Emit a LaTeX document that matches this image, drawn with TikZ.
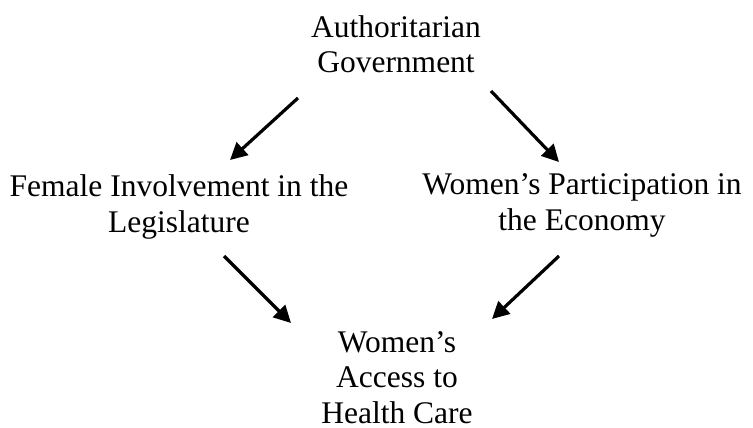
\documentclass[tikz,border=0pt]{standalone}
\usepackage{fontspec}
\setmainfont{Liberation Serif}
\usetikzlibrary{arrows.meta}
\begin{document}
\begin{tikzpicture}[x=1pt,y=-1pt,
  lbl/.style={align=center,anchor=base,inner sep=0pt,font=\fontsize{31.5}{35.5}\selectfont},
  arr/.style={line width=3.2pt,-{Triangle[length=17pt,width=17pt]}}]
\useasboundingbox[fill=white] (0,0) rectangle (753,428);
\node[lbl] (gov) at (396,73) {Authoritarian\\Government};
\node[lbl] (fem) at (179,232) {Female Involvement in the\\Legislature};
\node[lbl] (eco) at (582,230) {Women’s Participation in\\the Economy};
\node[lbl] (hc) at (397,423) {Women’s\\Access to\\Health Care};
\coordinate (a1s) at (298,98);  \coordinate (a1e) at (230,160);
\coordinate (a2s) at (491,91);  \coordinate (a2e) at (559,162);
\coordinate (a3s) at (224,256); \coordinate (a3e) at (291,323);
\coordinate (a4s) at (559,256); \coordinate (a4e) at (492,319);
\draw[arr] (a1s) -- (a1e);
\draw[arr] (a2s) -- (a2e);
\draw[arr] (a3s) -- (a3e);
\draw[arr] (a4s) -- (a4e);
\end{tikzpicture}
\end{document}
